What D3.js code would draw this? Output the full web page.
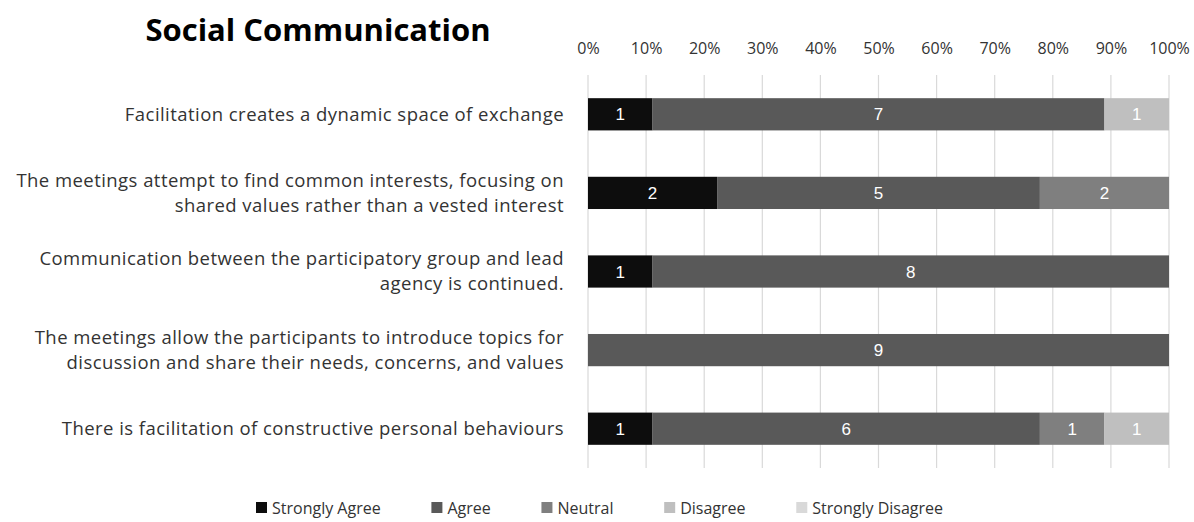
<!DOCTYPE html>
<html>
<head>
<meta charset="utf-8">
<script src="https://cdn.jsdelivr.net/npm/d3@7"></script>
<style>
  html, body { margin: 0; padding: 0; background: #fff; }
  svg { display: block; }
</style>
</head>
<body>
<svg id="chart" width="1194" height="522"></svg>
<script>
// Survey statements (top to bottom)
const statements = [
  ["Facilitation creates a dynamic space of exchange"],
  ["The meetings attempt to find common interests, focusing on", "shared values rather than a vested interest"],
  ["Communication between the participatory group and lead", "agency is continued."],
  ["The meetings allow the participants to introduce topics for", "discussion and share their needs, concerns, and values"],
  ["There is facilitation of constructive personal behaviours"]
];

// Response categories and their colours
const responses = ["Strongly Agree", "Agree", "Neutral", "Disagree", "Strongly Disagree"];
const colors = ["#0d0d0d", "#595959", "#7f7f7f", "#bfbfbf", "#d9d9d9"];

// Number of respondents per response, one array per category
const stronglyAgree    = [1, 2, 1, 0, 1];
const agree            = [7, 5, 8, 9, 6];
const neutral          = [0, 2, 0, 0, 1];
const disagree         = [1, 0, 0, 0, 1];
const stronglyDisagree = [0, 0, 0, 0, 0];

const tickValues = [0, 0.1, 0.2, 0.3, 0.4, 0.5, 0.6, 0.7, 0.8, 0.9, 1.0];

const seriesCounts = [stronglyAgree, agree, neutral, disagree, stronglyDisagree];

const FONT = "'Open Sans', sans-serif";
const TEXT = "#333333";

// Build rows with cumulative shares
const rows = statements.map((lines, i) => {
  const counts = seriesCounts.map(s => s[i]);
  const total = d3.sum(counts);
  let acc = 0;
  const segs = counts.map((c, k) => {
    const seg = { key: responses[k], color: colors[k], count: c, x0: acc / total, x1: (acc + c) / total };
    acc += c;
    return seg;
  });
  return { id: i, lines, segs };
});

const svg = d3.select("#chart");

const x = d3.scaleLinear().domain([0, 1]).range([588, 1169]);
const y = d3.scaleBand().domain(rows.map(r => r.id)).range([75, 468])
  .paddingInner(0.59).paddingOuter(0.295);

// Title
svg.append("text")
  .attr("x", 318).attr("y", 41)
  .attr("text-anchor", "middle")
  .style("font-family", FONT)
  .style("font-weight", "bold")
  .style("font-size", "31px")
  .attr("fill", "#000")
  .text("Social Communication");

// Vertical gridlines
svg.append("g")
  .selectAll("line")
  .data(tickValues)
  .join("line")
  .attr("x1", d => x(d)).attr("x2", d => x(d))
  .attr("y1", 75).attr("y2", 468)
  .attr("stroke", "#d9d9d9")
  .attr("stroke-width", 1.2);

// Top percentage axis
const xAxis = d3.axisTop(x)
  .tickValues(tickValues)
  .tickFormat(d3.format(".0%"))
  .tickSize(0)
  .tickPadding(0);

const axisG = svg.append("g")
  .attr("transform", "translate(0,54)")
  .call(xAxis);
axisG.select(".domain").remove();
axisG.selectAll("text")
  .style("font-family", FONT)
  .style("font-size", "16px")
  .attr("fill", TEXT);

// Bars
const rowG = svg.append("g")
  .selectAll("g")
  .data(rows)
  .join("g");

rowG.selectAll("rect")
  .data(d => d.segs.filter(s => s.count > 0).map(s => ({ ...s, row: d.id })))
  .join("rect")
  .attr("x", s => x(s.x0))
  .attr("width", s => x(s.x1) - x(s.x0))
  .attr("y", s => y(s.row))
  .attr("height", y.bandwidth())
  .attr("fill", s => s.color);

rowG.selectAll("text.val")
  .data(d => d.segs.filter(s => s.count > 0).map(s => ({ ...s, row: d.id })))
  .join("text")
  .attr("class", "val")
  .attr("x", s => (x(s.x0) + x(s.x1)) / 2)
  .attr("y", s => y(s.row) + y.bandwidth() / 2)
  .attr("dy", "0.36em")
  .attr("text-anchor", "middle")
  .style("font-family", "'Liberation Sans', Arial, sans-serif")
  .style("font-size", "17px")
  .attr("fill", "#fff")
  .text(s => s.count);

// Category labels, one text element per wrapped line
const labelG = svg.append("g");
rows.forEach(r => {
  const cy = y(r.id) + y.bandwidth() / 2;
  const lh = 25;
  const startY = cy - (r.lines.length - 1) * lh / 2;
  r.lines.forEach((ln, j) => {
    labelG.append("text")
      .attr("text-anchor", "end")
      .attr("x", 564)
      .attr("y", startY + j * lh)
      .attr("dy", "0.35em")
      .style("font-family", FONT)
      .style("font-size", "18.5px")
      .style("letter-spacing", "0.45px")
      .attr("fill", TEXT)
      .text(ln);
  });
});

// Legend: items laid out left to right from their measured text widths
const legendLeft = 256, legendRight = 943, swatch = 11, swatchGap = 5;
const legend = svg.append("g").attr("transform", "translate(0,508)");
const items = responses.map((name, k) => {
  const g = legend.append("g");
  g.append("rect").attr("x", 0).attr("y", -6).attr("width", swatch).attr("height", swatch).attr("fill", colors[k]);
  const t = g.append("text")
    .attr("x", swatch + swatchGap).attr("y", 0).attr("dy", "0.35em")
    .style("font-family", FONT)
    .style("font-size", "16px")
    .attr("fill", TEXT)
    .text(name);
  return { g, w: swatch + swatchGap + t.node().getComputedTextLength() };
});
const totalW = d3.sum(items, d => d.w);
const gap = (legendRight - legendLeft - totalW) / (items.length - 1);
let cx = legendLeft;
items.forEach(it => {
  it.g.attr("transform", `translate(${cx},0)`);
  cx += it.w + gap;
});
</script>
</body>
</html>
